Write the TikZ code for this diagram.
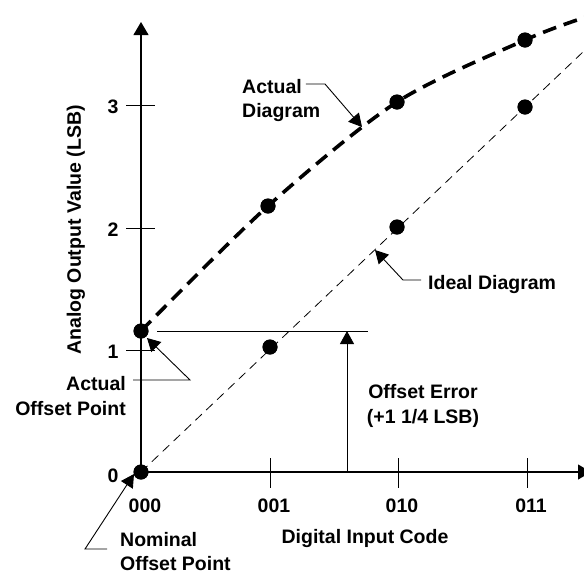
\documentclass[tikz,border=0pt]{standalone}
\usepackage{fontspec}
\setmainfont{Liberation Sans}
\usetikzlibrary{arrows.meta}
\begin{document}
\begin{tikzpicture}[x=1pt,y=-1pt,
  every node/.style={font=\fontsize{19.5}{24}\selectfont\bfseries, inner sep=0pt, text=black},
  axisline/.style={line width=1.1pt},
  tick/.style={line width=0.9pt},
  lead/.style={line width=0.9pt},
  tip/.style={-{Triangle[length=13pt,width=14pt]}},
  dot/.style={circle, fill=black, minimum size=15pt, inner sep=0pt},
  actualcurve/.style={line width=3.6pt, dash pattern=on 14pt off 8pt},
  idealline/.style={line width=0.8pt, dash pattern=on 9pt off 6pt},
  lbl/.style={anchor=base}
]
\path[use as bounding box] (0,0) rectangle (584,574);

% origin and axis ends
\coordinate (O) at (141,472);
\coordinate (ytop) at (141,22);
\coordinate (xend) at (591,472);

% axes
\draw[axisline,-{Triangle[length=13pt,width=15pt]}] (O) -- (ytop);
\draw[axisline,-{Triangle[length=13pt,width=15pt]}] (O) -- (xend);

% y ticks
\foreach \yy/\nm in {350/1,228/2,105/3}{
  \coordinate (yl\nm) at (126,\yy);
  \coordinate (yr\nm) at (155,\yy);
  \draw[tick] (yl\nm) -- (yr\nm);
}
% x ticks
\foreach \xx/\nm in {270/1,398/2,527/3}{
  \coordinate (xt\nm) at (\xx,458);
  \coordinate (xb\nm) at (\xx,488);
  \draw[tick] (xt\nm) -- (xb\nm);
}

% tick labels
\node[lbl] (n0) at (113,482) {0};
\node[lbl] (n1) at (113,358) {1};
\node[lbl] (n2) at (113,236) {2};
\node[lbl] (n3) at (113,113) {3};
\node[lbl] (c000) at (145,512) {000};
\node[lbl] (c001) at (274,512) {001};
\node[lbl] (c010) at (402,512) {010};
\node[lbl] (c011) at (531,512) {011};

% axis titles
\node[lbl] (xtitle) at (365,543) {Digital Input Code};
\node[rotate=90] (ytitle) at (76,230) {Analog Output Value (LSB)};

% ideal and actual points
\node[dot] (i0) at (141,472) {};
\node[dot] (i1) at (270,347) {};
\node[dot] (i2) at (397,227) {};
\node[dot] (i3) at (525,107) {};
\node[dot] (a0) at (141,331) {};
\node[dot] (a1) at (268,206) {};
\node[dot] (a2) at (397,102) {};
\node[dot] (a3) at (525,40) {};
\coordinate (iend) at (584,51);
\coordinate (aend) at (586,17);

\draw[idealline] (i0.center) -- (iend);
\draw[actualcurve] plot[smooth, tension=0.5] coordinates {(a0.center) (a1.center) (a2.center) (a3.center) (aend)};
% redraw dots on top
\foreach \p in {i0,i1,i2,i3,a0,a1,a2,a3}{ \fill (\p) circle[radius=7.5pt]; }

% offset error
\coordinate (oeh1) at (157,331);
\coordinate (oeh2) at (368,331);
\coordinate (oeb) at (347,472);
\coordinate (oet) at (347,331);
\draw[lead] (oeh1) -- (oeh2);
\draw[lead,tip] (oeb) -- (oet);
\node[lbl] (oe1) at (423,398) {Offset Error};
\node[lbl] (oe2) at (423,423) {(+1 1/4 LSB)};

% Actual Diagram label
\node[anchor=base west] (ad1) at (242,93) {Actual};
\node[anchor=base west] (ad2) at (242,117) {Diagram};
\coordinate (adk) at (325,84);
\coordinate (adt) at (362,127);
\draw[lead,tip] (ad1.east |- adk) ++(4,0) -- (adk) -- (adt);

% Ideal Diagram label
\node[anchor=base west] (id) at (428,289) {Ideal Diagram};
\coordinate (idk) at (403,280);
\coordinate (idt) at (375,250);
\coordinate (ids) at (421,280);
\draw[lead,tip] (ids) -- (idk) -- (idt);

% Actual Offset Point label
\node[anchor=base east] (ao1) at (126,390) {Actual};
\node[anchor=base east] (ao2) at (126,415) {Offset Point};
\coordinate (aos) at (133,380);
\coordinate (aok) at (190,380);
\coordinate (aot) at (147,338);
\draw[lead,tip] (aos) -- (aok) -- (aot);

% Nominal Offset Point label
\node[anchor=base west] (no1) at (120,546) {Nominal};
\node[anchor=base west] (no2) at (120,570) {Offset Point};
\coordinate (nos) at (107,549);
\coordinate (nok) at (85,549);
\coordinate (not) at (134,474);
\draw[lead,tip] (nos) -- (nok) -- (not);
\end{tikzpicture}
\end{document}
